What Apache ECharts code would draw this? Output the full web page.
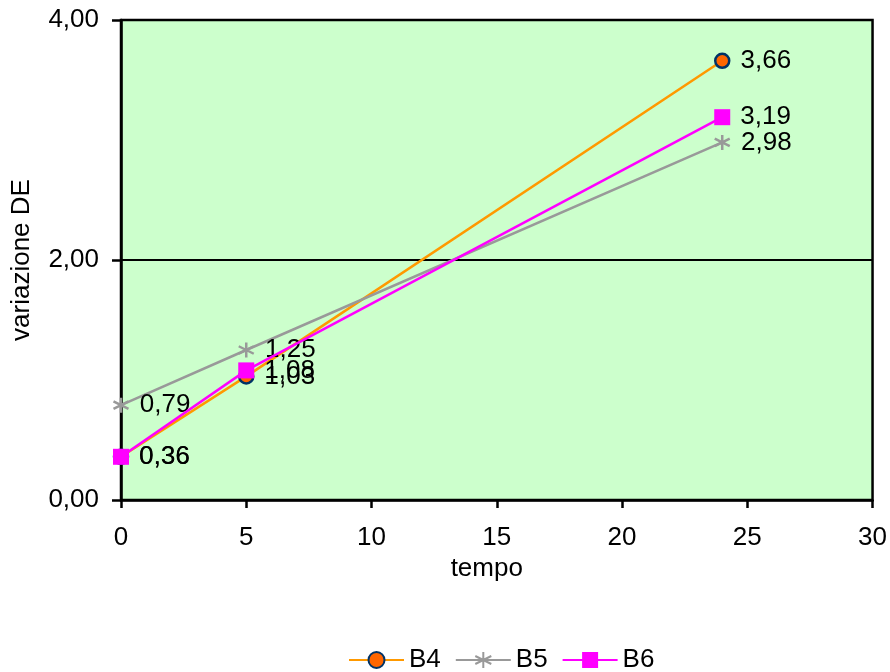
<!DOCTYPE html>
<html><head><meta charset="utf-8">
<script src="https://cdn.jsdelivr.net/npm/echarts@6/dist/echarts.min.js"></script>
<style>html,body{margin:0;padding:0;background:#fff}#c{width:890px;height:672px}</style>
</head><body><div id="c"></div>
<script>
const xB4 = [0, 5, 24];
const B4 = [0.36, 1.03, 3.66];
const xB5 = [0, 5, 24];
const B5 = [0.79, 1.25, 2.98];
const xB6 = [0, 5, 24];
const B6 = [0.36, 1.08, 3.19];
const seriesNames = ['B4', 'B5', 'B6'];

const fmt = v => v.toFixed(2).replace('.', ',');
const pairs = (xs, ys) => xs.map((x, i) => [x, ys[i]]);
const FONT = '"Liberation Sans", Arial, sans-serif';
const FS = 26;
const asterisk = 'path://M0,-10 L0,10 M-8.66,-5 L8.66,5 M-8.66,5 L8.66,-5';

const lbl = {show: true, position: 'right', distance: 10, color: '#000', fontSize: FS, fontFamily: FONT,
  formatter: p => fmt(p.value[1])};

const chart = echarts.init(document.getElementById('c'), null, {renderer: 'canvas'});
chart.setOption({
  animation: false,
  textStyle: {fontFamily: FONT},
  grid: {left: 121, right: 17, top: 20, bottom: 172, show: true, backgroundColor: '#CCFFCC', borderColor: '#000', borderWidth: 2.5},
  xAxis: {type: 'value', min: 0, max: 30, interval: 5,
    name: 'tempo', nameLocation: 'middle', nameGap: 48,
    nameTextStyle: {fontSize: FS, color: '#000', fontFamily: FONT, padding: [0, 20, 0, 0]},
    axisLine: {show: true, lineStyle: {color: '#000', width: 2.5}},
    axisTick: {show: true, length: 8, lineStyle: {color: '#000', width: 2.5}},
    axisLabel: {fontSize: FS, color: '#000', margin: 25, fontFamily: FONT},
    splitLine: {show: false}},
  yAxis: {type: 'value', min: 0, max: 4, interval: 2,
    name: 'variazione DE', nameLocation: 'middle', nameGap: 86,
    nameTextStyle: {fontSize: FS, color: '#000', fontFamily: FONT},
    axisLine: {show: true, lineStyle: {color: '#000', width: 2.5}},
    axisTick: {show: true, length: 9, lineStyle: {color: '#000', width: 2.5}},
    axisLabel: {fontSize: FS, color: '#000', margin: 22, fontFamily: FONT, formatter: v => fmt(v)},
    splitLine: {show: true, lineStyle: {color: '#000', width: 2}}},
  legend: {top: 647, left: 348, itemWidth: 55, itemHeight: 20, itemGap: 14, padding: 0,
    textStyle: {fontSize: FS, color: '#000', fontFamily: FONT},
    data: seriesNames},
  series: [
    {name: seriesNames[0], type: 'line', data: pairs(xB4, B4), symbol: 'circle', symbolSize: 14,
      lineStyle: {color: '#FF9900', width: 2.5}, itemStyle: {color: '#FF6600', borderColor: '#003366', borderWidth: 2.5},
      label: lbl, z: 2},
    {name: seriesNames[1], type: 'line', data: pairs(xB5, B5), symbol: asterisk, symbolSize: 15,
      lineStyle: {color: '#999999', width: 2.5}, itemStyle: {color: 'rgba(0,0,0,0)', borderColor: '#999999', borderWidth: 2.5},
      label: lbl, z: 3},
    {name: seriesNames[2], type: 'line', data: pairs(xB6, B6), symbol: 'rect', symbolSize: 16,
      lineStyle: {color: '#FF00FF', width: 2.5}, itemStyle: {color: '#FF00FF', borderColor: '#FF00FF', borderWidth: 0},
      label: lbl, z: 4}
  ]
});
</script></body></html>
